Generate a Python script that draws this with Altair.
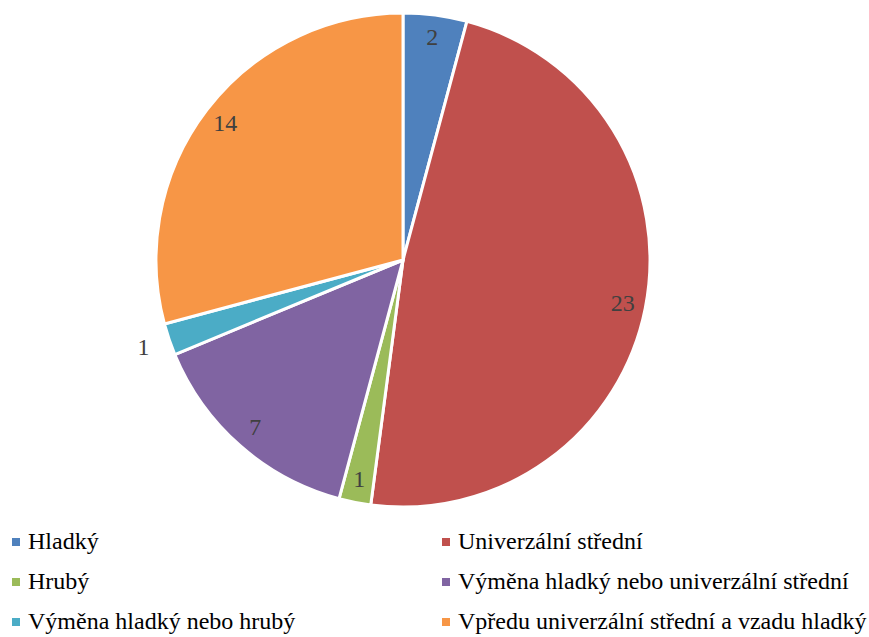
import altair as alt
import pandas as pd

# Tyre type counts shown as a pie
categories = [
    "Hladký",
    "Univerzální střední",
    "Hrubý",
    "Výměna hladký nebo univerzální střední",
    "Výměna hladký nebo hrubý",
    "Vpředu univerzální střední a vzadu hladký",
]
counts = [2, 23, 1, 7, 1, 14]
colors = ["#4F81BD", "#C0504D", "#9BBB59", "#8064A2", "#4BACC6", "#F79646"]

df = pd.DataFrame({"kategorie": categories, "pocet": counts, "poradi": list(range(len(categories)))})

# the legend fills column by column, so list entries so they read across rows
legend_order = categories[0::2] + categories[1::2]
legend_colors = colors[0::2] + colors[1::2]

CX, CY, R = 403, 260, 247
SERIF = "Liberation Serif, Times New Roman, serif"
OUTSIDE = "Výměna hladký nebo hrubý"

theta = alt.Theta("pocet:Q", stack=True)
order = alt.Order("poradi:Q")

base = alt.Chart(df)

pie = base.mark_arc(x=CX, y=CY, outerRadius=R, stroke="white", strokeWidth=3).encode(
    theta=theta,
    order=order,
    color=alt.Color(
        "kategorie:N",
        sort=legend_order,
        scale=alt.Scale(domain=legend_order, range=legend_colors),
        legend=alt.Legend(
            title=None,
            orient="none",
            legendX=4,
            legendY=530,
            padding=0,
            columns=2,
            gridAlign="each",
            columnPadding=138,
            rowPadding=16,
            symbolType="square",
            symbolSize=64,
            symbolStrokeWidth=0,
            labelFont=SERIF,
            labelFontSize=24,
            labelColor="#000000",
            labelLimit=600,
            labelOffset=0,
        ),
    ),
)

# value labels inside the slices; the thin cyan slice gets its label outside
inner = base.mark_text(x=CX, y=CY, radius=224, font=SERIF, fontSize=24, color="#404040").encode(
    theta=theta, order=order, text="pocet:Q",
    opacity=alt.condition(alt.datum.kategorie == OUTSIDE, alt.value(0), alt.value(1)),
)

outer = base.mark_text(x=CX, y=CY, radius=274, font=SERIF, fontSize=24, color="#404040").encode(
    theta=theta, order=order, text="pocet:Q",
    opacity=alt.condition(alt.datum.kategorie == OUTSIDE, alt.value(1), alt.value(0)),
)

chart = (
    alt.layer(pie, inner, outer)
    .properties(width=869, height=637, autosize=alt.AutoSizeParams(type="none"), padding=0)
    .configure_view(stroke=None)
)

chart.save("out.html", embed_options={"renderer": "svg", "actions": False})
